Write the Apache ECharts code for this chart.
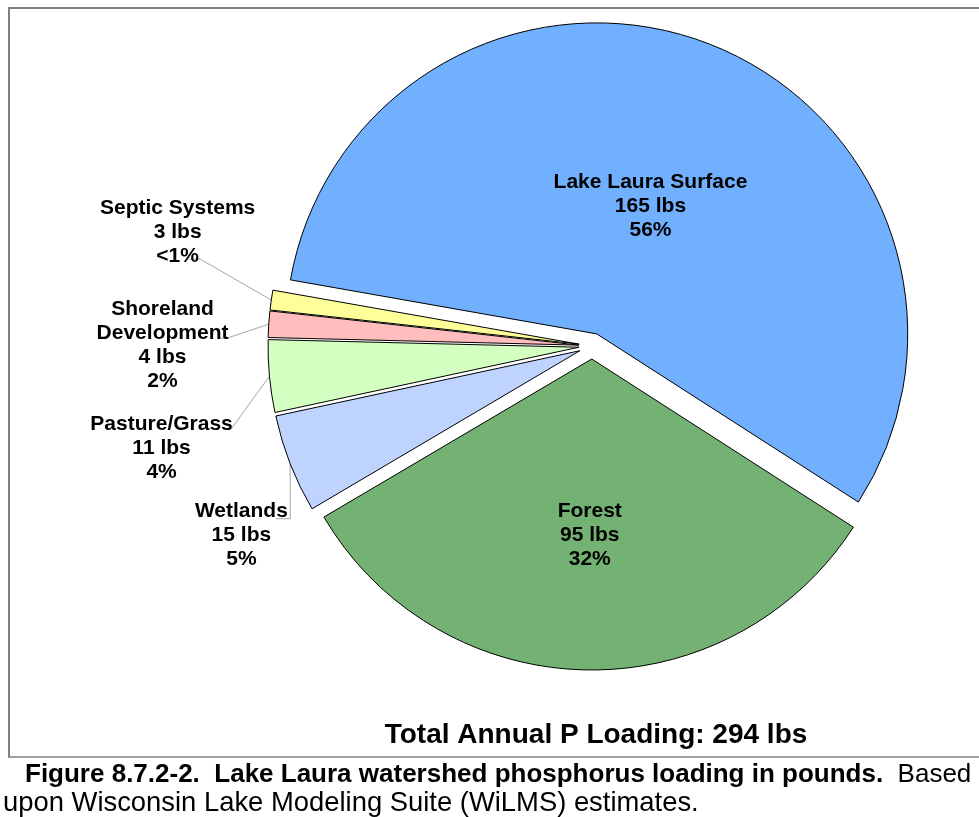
<!DOCTYPE html>
<html>
<head>
<meta charset="utf-8">
<title>Lake Laura watershed phosphorus loading</title>
<script src="https://cdn.jsdelivr.net/npm/echarts@6/dist/echarts.min.js"></script>
<style>
  html, body { margin: 0; padding: 0; background: #fff; }
  #chart { width: 979px; height: 817px; }
</style>
</head>
<body>
<div id="chart"></div>
<script>
// data
const SOURCES = ['Lake Laura Surface', 'Forest', 'Wetlands', 'Pasture/Grass', 'Shoreland\nDevelopment', 'Septic Systems'];
const LOADS = [165, 95, 15, 11, 4, 3];
const PCT_LABELS = ['56%', '32%', '5%', '4%', '2%', '<1%'];
const COLORS = ['#70B0FF', '#73B273', '#BFD3FF', '#D3FFC0', '#FFBDBD', '#FFFF99'];
const TOTAL_TEXT = 'Total Annual P Loading: 294 lbs';

const FONT = '"Liberation Sans", Arial, sans-serif';

// where the outside labels sit (Excel-style leader lines), by data index
const OUTER_LABELS = {
  2: { x: 241, y: 530, lineY: 514, endX: 288, vertical: true },
  3: { x: 162, y: 447, lineY: 428, elbowX: 244, endX: 236 },
  4: { x: 163, y: 346, lineY: 339, elbowX: 240, endX: 232 },
  5: { x: 178, y: 234, lineY: 261, elbowX: 213, endX: 202 }
};
// labelRect of the outer labels ignores the exploded (selected) shift of the slice
const SEL_FIX = 12.5;

const chart = echarts.init(document.getElementById('chart'));

const option = {
  animation: false,
  backgroundColor: '#fff',
  graphic: [
    // frame
    { type: 'line', shape: { x1: 8, y1: 8, x2: 979, y2: 8 }, style: { stroke: '#808080', lineWidth: 2 } },
    { type: 'line', shape: { x1: 9, y1: 7, x2: 9, y2: 757 }, style: { stroke: '#808080', lineWidth: 2 } },
    { type: 'line', shape: { x1: 8, y1: 757, x2: 979, y2: 757 }, style: { stroke: '#808080', lineWidth: 1.5 } },
    // total
    {
      type: 'text', x: 596, y: 735,
      style: { text: TOTAL_TEXT, font: 'bold 28px ' + FONT, fill: '#000', textAlign: 'center', textVerticalAlign: 'middle' }
    },
    // caption
    {
      type: 'text', x: 25, y: 775,
      style: {
        text: '{b|Figure 8.7.2-2.  Lake Laura watershed phosphorus loading in pounds.}{r|  Based}',
        textVerticalAlign: 'middle',
        rich: {
          b: { font: 'bold 26px ' + FONT, fill: '#000' },
          r: { font: '26px ' + FONT, fill: '#000' }
        }
      }
    },
    {
      type: 'text', x: 3, y: 803,
      style: { text: 'upon Wisconsin Lake Modeling Suite (WiLMS) estimates.', font: '27.4px ' + FONT, fill: '#000', textVerticalAlign: 'middle' }
    }
  ],
  series: [
    {
      type: 'pie',
      center: [592, 346],
      radius: 311,
      startAngle: 170,
      clockwise: true,
      selectedMode: 'multiple',
      selectedOffset: 13,
      emphasis: { disabled: true },
      itemStyle: { borderColor: '#000', borderWidth: 1 },
      label: {
        color: '#000',
        fontFamily: FONT,
        fontWeight: 'bold',
        fontSize: 21,
        lineHeight: 24,
        formatter: p => p.name + '\n' + p.value + ' lbs\n' + PCT_LABELS[p.dataIndex]
      },
      labelLine: {
        show: true,
        length: 14,
        length2: 8,
        lineStyle: { color: '#a6a6a6', width: 1 }
      },
      labelLayout: function (params) {
        const i = params.dataIndex;
        if (i === 0) return { dx: -4, dy: 20 };
        if (i === 1) return { dx: 1, dy: 18 };
        const s = OUTER_LABELS[i];
        const r = params.labelRect;
        const p0 = params.labelLinePoints[0];
        const pts = s.vertical
          ? [p0, [p0[0], s.lineY], [s.endX, s.lineY]]
          : [p0, [s.elbowX, s.lineY], [s.endX, s.lineY]];
        // left-side labels are anchored at their right edge; centre the lines on that anchor and move it
        return {
          align: 'center',
          dx: s.x + SEL_FIX - (r.x + r.width),
          dy: s.y - (r.y + r.height / 2),
          labelLinePoints: pts
        };
      },
      data: SOURCES.map((name, i) => ({
        name: name,
        value: LOADS[i],
        selected: true,
        itemStyle: { color: COLORS[i] },
        label: { position: i < 2 ? 'inside' : 'outside' }
      }))
    }
  ]
};

chart.setOption(option);
</script>
</body>
</html>
